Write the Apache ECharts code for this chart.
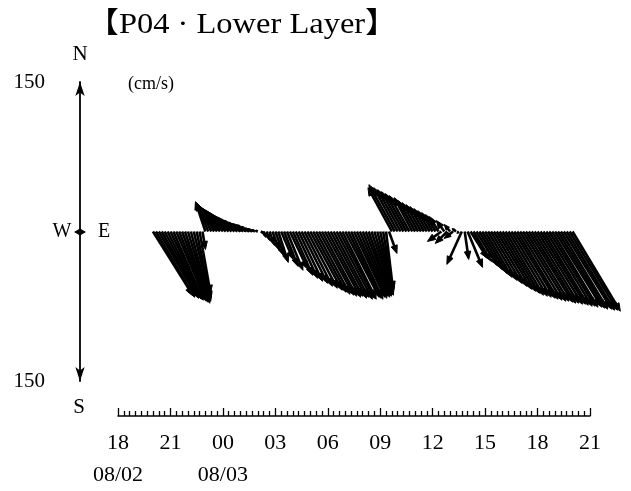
<!DOCTYPE html>
<html>
<head>
<meta charset="utf-8">
<title>P04 Lower Layer</title>
<script src="https://cdn.jsdelivr.net/npm/echarts@6/dist/echarts.min.js"></script>
<style>
  *{margin:0;padding:0;}
  #main{width:631px;height:491px;background:#fff;}
</style>
</head>
<body>
<div id="main"></div>
<script>
// x axis in hours counted from 08/02 00:00
var axisStart = 18, axisEnd = 45, labelStep = 3;
var dateLabels = {18: '08/02', 24: '08/03'};
var speedMax = 150;

// current record, one vector every 10 min from 08/02 20:00
var firstHour = 20, stepHours = 1 / 6;
// east component (cm/s)
var uEast = [
  40, 39, 38, 37, 35, 34, 32, 30, 29, 27, 25, 23, 21, 19, 17, 14, 11, 3,
  -10, -12, -13, -15, -16, -17, -17, -18, -17, -17, -16, -15, -14, -12, -10, -8, -6, -4, -3,
  4, 2, 3, 5, 7, 9, 10, 12, 14, 16, 18, 20, 22, 24,
  26, 28, 30, 32, 33, 34, 35, 35, 36, 35, 36, 35, 36, 35, 34, 34, 33, 32, 31, 30,
  28, 27, 25, 23, 21, 19, 16, 13, 10, 7, 8,
  -24, -26, -24, -23, -22, -21, -20, -18, -17, -16, -15, -14, -13, -12, -11, -10,
  -9, -14, -8, -12, -6, -9, -4, -2,
  -15, 4, 15,
  17, 18, 21, 23, 25, 27, 29, 31, 33, 35, 36, 37, 38, 39, 40, 41, 41, 42, 43, 43,
  44, 44, 44, 45, 45, 45, 46, 46, 46, 47, 47, 47, 48, 48, 48, 48
];
// north component (cm/s)
var vNorth = [
  -64, -66, -65, -67, -66, -68, -67, -69, -68, -70, -69, -71, -70, -72, -70, -68, -62, -18,
  30, 29, 27, 26, 24, 23, 21, 19, 17, 15, 13, 11, 9, 8, 6, 4, 3, 2, 1,
  -2, -6, -9, -14, -19, -25, -31, -28, -35, -39, -38, -44, -47, -50,
  -52, -55, -57, -59, -61, -63, -64, -65, -66, -65, -67, -66, -68, -67, -68, -66, -67, -68, -66, -67,
  -65, -66, -64, -65, -63, -64, -62, -61, -60, -58, -22,
  44, 47, 44, 42, 40, 38, 36, 34, 31, 29, 27, 25, 23, 21, 19, 17,
  15, -10, 11, -12, 7, -7, 3, -2,
  -33, -28, -36,
  -27, -30, -34, -38, -42, -46, -49, -52, -55, -58, -60, -62, -64, -65, -66, -67, -68, -69, -70, -70,
  -71, -72, -72, -73, -73, -74, -75, -75, -76, -76, -77, -78, -78, -79, -79, -80
];

var vectors = uEast.map(function (u, i) {
  return [firstHour + i * stepHours, u, vNorth[i]];
});

var serif = "'Liberation Serif', 'Noto Sans CJK JP', serif";

function pad(n) {
  return (n < 10 ? '0' : '') + n;
}

// stick with arrow head, base on the time axis, tip by (u, v) on the speed scale
function renderVector(params, api) {
  var u = api.value(1), v = api.value(2);
  var base = api.coord([api.value(0), 0]);
  var k = api.size([0, 1])[1];
  var tip = [base[0] + u * k, base[1] - v * k];
  var dx = tip[0] - base[0], dy = tip[1] - base[1];
  var len = Math.sqrt(dx * dx + dy * dy);
  if (len < 0.5) return null;
  var ux = dx / len, uy = dy / len;
  var hl = Math.min(8, len * 0.6), hw = hl * 0.4;
  var back = [tip[0] - ux * hl, tip[1] - uy * hl];
  return {
    type: 'group',
    children: [{
      type: 'line',
      shape: {x1: base[0], y1: base[1], x2: back[0] + ux * hl * 0.5, y2: back[1] + uy * hl * 0.5},
      style: {stroke: '#000', lineWidth: 2.6}
    }, {
      type: 'polygon',
      shape: {points: [tip, [back[0] - uy * hw, back[1] + ux * hw], [back[0] + uy * hw, back[1] - ux * hw]]},
      style: {fill: '#000', stroke: '#000', lineWidth: 1}
    }]
  };
}

var myChart = echarts.init(document.getElementById('main'));

var option = {
  backgroundColor: '#fff',
  animation: false,
  grid: {left: 118, right: 41, top: 82, height: 302},
  xAxis: {
    type: 'value',
    min: axisStart,
    max: axisEnd,
    interval: labelStep,
    position: 'bottom',
    offset: 35,
    splitLine: {show: false},
    axisLine: {onZero: false, lineStyle: {color: '#000', width: 1.5}},
    axisTick: {inside: true, length: 8, lineStyle: {color: '#000', width: 1.3}},
    minorTick: {show: true, splitNumber: 9, length: 5, lineStyle: {color: '#000', width: 1.3}},
    minorSplitLine: {show: false},
    axisLabel: {
      color: '#000',
      fontFamily: serif,
      fontSize: 22,
      lineHeight: 32,
      margin: 11,
      showMinLabel: true,
      showMaxLabel: true,
      formatter: function (val) {
        var s = pad(val % 24);
        if (dateLabels[val]) s += '\n' + dateLabels[val];
        return s;
      }
    }
  },
  yAxis: {
    type: 'value',
    min: -speedMax,
    max: speedMax,
    interval: speedMax,
    position: 'left',
    offset: 38,
    splitLine: {show: false},
    axisTick: {show: false},
    axisLine: {
      onZero: false,
      symbol: ['arrow', 'arrow'],
      symbolSize: [7, 14],
      lineStyle: {color: '#000', width: 1.8}
    },
    axisLabel: {
      color: '#000',
      fontFamily: serif,
      fontSize: 21,
      margin: 35,
      formatter: function (val) {
        return val === 0 ? '' : String(Math.abs(val));
      }
    }
  },
  graphic: [
    {type: 'text', x: 242, y: 25, scaleX: 1.12, style: {text: '【P04 · Lower Layer】', x: 0, y: 0, align: 'center', verticalAlign: 'middle', font: '29px ' + serif, fill: '#000'}},
    {type: 'text', style: {text: 'N', x: 80, y: 54, align: 'center', verticalAlign: 'middle', font: '21px ' + serif, fill: '#000'}},
    {type: 'text', style: {text: 'S', x: 79, y: 407, align: 'center', verticalAlign: 'middle', font: '21px ' + serif, fill: '#000'}},
    {type: 'text', style: {text: 'W', x: 62, y: 232, align: 'center', verticalAlign: 'middle', font: '20px ' + serif, fill: '#000'}},
    {type: 'text', style: {text: 'E', x: 104, y: 232, align: 'center', verticalAlign: 'middle', font: '20px ' + serif, fill: '#000'}},
    {type: 'text', style: {text: '(cm/s)', x: 151, y: 84, align: 'center', verticalAlign: 'middle', font: '18px ' + serif, fill: '#000'}},
    {type: 'polygon', shape: {points: [[74, 232], [80, 228.5], [86, 232], [80, 235.5]]}, style: {fill: '#000'}}
  ],
  series: [{
    type: 'custom',
    coordinateSystem: 'cartesian2d',
    renderItem: renderVector,
    encode: {x: 0, y: 2},
    clip: false,
    silent: true,
    data: vectors
  }]
};

myChart.setOption(option);
</script>
</body>
</html>
